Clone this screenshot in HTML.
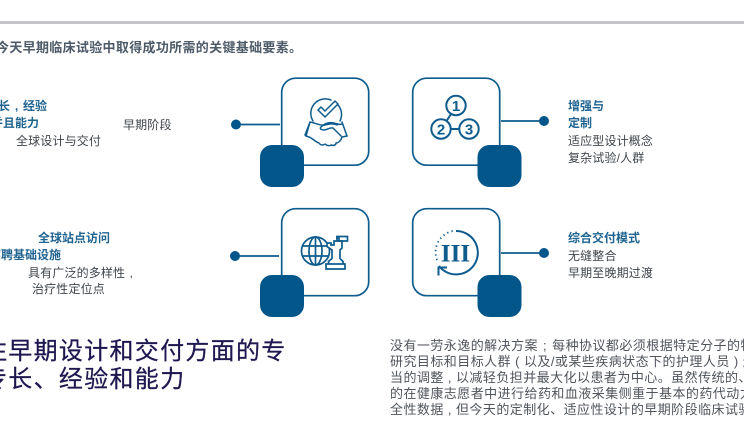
<!DOCTYPE html>
<html lang="zh"><head><meta charset="utf-8">
<style>
html,body{margin:0;padding:0;background:#fff}
#p{position:relative;width:744px;height:437px;overflow:hidden;background:#fff;font-family:"Liberation Sans","Noto Sans CJK SC",sans-serif}
.t{position:absolute;white-space:nowrap;line-height:18px;height:18px}
.b{font-size:12px;font-weight:700;color:#1f6391;letter-spacing:0}
.n{font-size:12px;color:#3f454b;letter-spacing:.15px}
.h{font-size:24px;color:#1f1850;letter-spacing:1.3px;line-height:28px;height:28px;-webkit-text-stroke:.25px #1f1850}
.x{font-size:13px;color:#50555c;letter-spacing:.45px;line-height:16px;height:16px;left:390px}
svg{position:absolute;left:0;top:0}
</style></head><body><div id="p">
<svg width="744" height="437" viewBox="0 0 744 437" fill="none">
<rect x="0" y="21" width="744" height="3" fill="#c4c4ca"/>
<g stroke="#0e5c8e" stroke-width="1.7">
<rect x="281.700" y="78.200" width="87" height="87" rx="14"/>
<rect x="412.700" y="78.200" width="87" height="87" rx="14"/>
<rect x="281.700" y="208.700" width="87" height="87" rx="14"/>
<rect x="412.700" y="208.700" width="87" height="87" rx="14"/>
<path d="M240 124.500H280M501 121H540M240 256H279M501 253H540"/>
</g>
<g fill="#02568a">
<rect x="260" y="145" width="44" height="42" rx="12"/>
<rect x="477.500" y="145" width="44" height="42" rx="12"/>
<rect x="260" y="275" width="44" height="42" rx="12"/>
<rect x="477.500" y="275" width="44" height="42" rx="12"/>
<circle cx="236" cy="124.500" r="5"/><circle cx="544" cy="121" r="5"/>
<circle cx="235" cy="256" r="5"/><circle cx="544" cy="253" r="5"/>
</g>
<!-- handshake -->
<g stroke="#0e5c8e" stroke-width="1.500" stroke-linejoin="round" stroke-linecap="round">
<path d="M313 121A14.500 14.500 0 0 1 331 100M338 105A14.500 14.500 0 0 1 340 121"/>
<path d="M318 110l3-3 4 4 10-10 3 3-13 13z"/>
<path d="M305 135L310 122L306 136M310 122c6 1 10 4 15 3c4-1 8-2 12 0M342 122l5 14M342 124c-3 1-5 0-8-1c-5-1-9 0-13 4c-2 2 1 3 3 3c3 0 6-3 9-2l8 8"/>
<path d="M306 136c6 1 9 6 13 7c2 3 5 2 6 1c2 2 5 2 6 1c3 1 5 0 5-2c2 0 5-2 6-6l5-1"/>
</g>
<!-- 123 -->
<g stroke="#0e5c8e" stroke-width="2">
<circle cx="456" cy="105.500" r="9.700"/><circle cx="441" cy="129" r="9.700"/><circle cx="469" cy="129" r="9.700"/>
<path d="M451 114l-4.500 7M450.700 129H459.300"/>
</g>
<g fill="#0e5c8e" font-family="Liberation Sans,sans-serif" font-weight="700" font-size="15px" text-anchor="middle">
<text x="456" y="110.900">1</text><text x="441" y="134.400">2</text><text x="469" y="134.400">3</text>
</g>
<!-- globe + rook -->
<g stroke="#0e5c8e" stroke-width="1.700">
<circle cx="315.500" cy="251" r="14"/>
<ellipse cx="315.500" cy="251" rx="6.500" ry="14"/>
<path d="M315.500 237V265M302 246H329M302 256H329"/>
<path fill="#fff" d="M326 269V264H345V269ZM328.500 264V261.500L332 258.500V250L327 246.500V243H331V245H334V241H337V237H339V241H342V248L340 250V258.500L343 261.500V264Z"/>
<path d="M337 239V236.500H347.500V241H337"/>
</g>
<!-- cycle -->
<g stroke="#0e5c8e" fill="none">
<path stroke-width="2" d="M456 231A21.700 21.700 0 1 1 439 266"/>
<path stroke-width="2" d="M438.500 275.500V267.500H447"/>
<path stroke-width="1.800" stroke-dasharray="1.300 3.200" d="M437 260A21.700 21.700 0 0 1 453 231"/>
</g>
<text x="455.500" y="261.500" text-anchor="middle" font-family="Liberation Serif,serif" font-weight="700" font-size="25px" letter-spacing="0" fill="#0e5c8e">III</text>
</svg>

<div class="t" style="left:-4px;top:39px;font-size:13px;font-weight:700;color:#4d5a68;letter-spacing:.32px">今天早期临床试验中取得成功所需的关键基础要素。</div>

<div class="t b" style="left:-2px;top:97px;word-spacing:1.500px">长 , 经验</div>
<div class="t b" style="left:-9px;top:114px">并且能力</div>
<div class="t n" style="left:16px;top:132px">全球设计与交付</div>
<div class="t n" style="left:123px;top:116px">早期阶段</div>

<div class="t b" style="left:38px;top:229px">全球站点访问</div>
<div class="t b" style="left:-11px;top:246px">招聘基础设施</div>
<div class="t n" style="left:28px;top:264px;word-spacing:1px">具有广泛的多样性 ,</div>
<div class="t n" style="left:32px;top:280px">治疗性定位点</div>

<div class="t b" style="left:568px;top:97px">增强与</div>
<div class="t b" style="left:568px;top:114px">定制</div>
<div class="t n" style="left:568px;top:132px">适应型设计概念</div>
<div class="t n" style="left:568px;top:149px">复杂试验/人群</div>

<div class="t b" style="left:568px;top:229px">综合交付模式</div>
<div class="t n" style="left:568px;top:247px">无缝整合</div>
<div class="t n" style="left:568px;top:264px">早期至晚期过渡</div>

<div class="t h" style="left:-17px;top:338px">注早期设计和交付方面的专</div>
<div class="t h" style="left:-17px;top:366px">专长、经验和能力</div>

<div class="t x" style="top:338px;word-spacing:1px">没有一劳永逸的解决方案 ; 每种协议都必须根据特定分子的特</div>
<div class="t x" style="top:354px">研究目标和目标人群 ( 以及/或某些疾病状态下的护理人员 ) 进</div>
<div class="t x" style="top:370px">当的调整 , 以减轻负担并最大化以患者为中心。虽然传统的、</div>
<div class="t x" style="top:386px">的在健康志愿者中进行给药和血液采集侧重于基本的药代动力</div>
<div class="t x" style="top:402px">全性数据 , 但今天的定制化、适应性设计的早期阶段临床试验</div>
</div></body></html>
